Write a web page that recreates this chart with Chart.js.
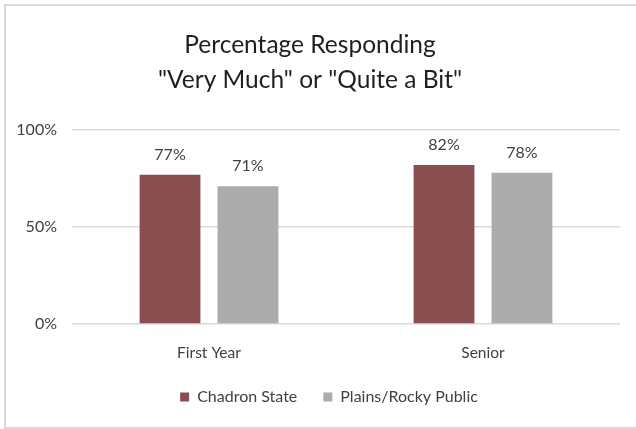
<!DOCTYPE html>
<html>
<head>
<meta charset="utf-8">
<script src="https://cdn.jsdelivr.net/npm/chart.js@4"></script>
<style>
  body { margin: 0; background: #fff; }
  #wrap { position: relative; width: 636px; height: 429px; overflow: hidden; }
  #frame { position: absolute; left: 4px; top: 4px; width: 650px; height: 425px; border: 2px solid #d9d9d9; box-sizing: border-box; }
  canvas { position: absolute; left: 0; top: 0; }
</style>
</head>
<body>
<div id="wrap">
  <div id="frame"></div>
  <canvas id="chart" width="636" height="429"></canvas>
</div>
<script>
const categories = ["First Year", "Senior"];
const chadron = [77, 82];
const plainsRocky = [71, 78];
const yTicks = [0, 50, 100];

const font = "Lato, 'Open Sans', sans-serif";

// draws the percentage above each bar
const valueLabels = {
  id: "valueLabels",
  afterDatasetsDraw(chart) {
    const ctx = chart.ctx;
    ctx.save();
    ctx.font = "16px " + font;
    ctx.fillStyle = "#404040";
    ctx.textAlign = "center";
    ctx.textBaseline = "bottom";
    chart.data.datasets.forEach((ds, i) => {
      chart.getDatasetMeta(i).data.forEach((bar, j) => {
        ctx.fillText(ds.data[j] + "%", bar.x, bar.y - 12);
      });
    });
    ctx.restore();
  },
};

// the legend in the original sits a bit right of centre and a bit higher
const legendShift = {
  id: "legendShift",
  afterLayout(chart) {
    const lg = chart.legend;
    lg.left += 19;
    lg.right += 19;
    lg.top -= 5;
    lg.bottom -= 5;
  },
};

new Chart(document.getElementById("chart"), {
  type: "bar",
  data: {
    labels: categories,
    datasets: [
      { label: "Chadron State", data: chadron, backgroundColor: "#8b4e50" },
      { label: "Plains/Rocky Public", data: plainsRocky, backgroundColor: "#acacac" },
    ],
  },
  plugins: [valueLabels, legendShift],
  options: {
    responsive: false,
    animation: false,
    categoryPercentage: 0.569,
    barPercentage: 0.78,
    layout: { padding: { top: 5, right: 16, bottom: 9, left: 0 } },
    plugins: {
      title: {
        display: true,
        text: ["Percentage Responding", "\"Very Much\" or \"Quite a Bit\""],
        color: "#1f1f1f",
        font: { family: font, size: 24.5, weight: "normal", lineHeight: 1.45 },
        padding: { top: 22, bottom: 32 },
      },
      legend: {
        position: "bottom",
        labels: {
          color: "#404040",
          font: { family: font, size: 16 },
          boxWidth: 9,
          boxHeight: 9,
          padding: 26,
        },
      },
      tooltip: { enabled: false },
    },
    scales: {
      x: {
        grid: { display: false },
        border: { display: false },
        ticks: { color: "#404040", font: { family: font, size: 15.5 }, padding: 12 },
        afterFit(axis) {
          axis.height = 44;
        },
      },
      y: {
        min: 0,
        max: 100,
        afterBuildTicks(axis) {
          axis.ticks = yTicks.map((v) => ({ value: v }));
        },
        grid: { color: "#d9d9d9", lineWidth: 1.5, drawTicks: false },
        border: { display: false },
        ticks: {
          color: "#404040",
          font: { family: font, size: 16 },
          padding: 15,
          callback: (v) => v + "%",
        },
        afterFit(axis) {
          axis.width = 72;
        },
      },
    },
  },
});
</script>
</body>
</html>
